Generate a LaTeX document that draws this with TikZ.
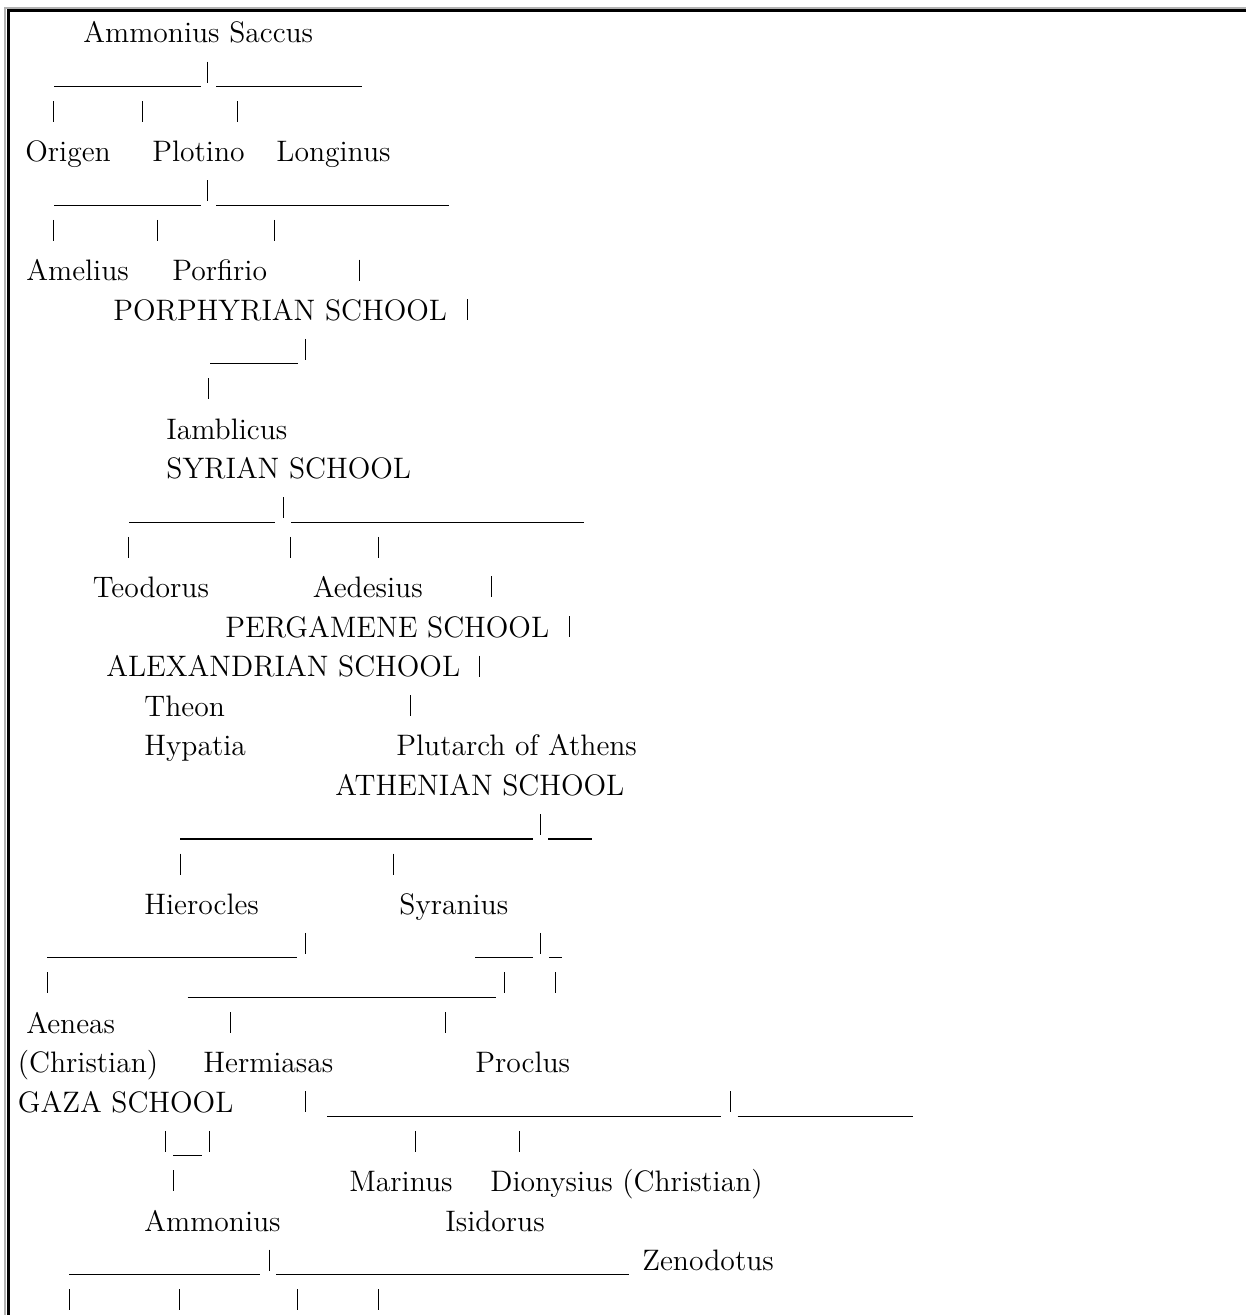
\documentclass[tikz,border=0pt]{standalone}
\usepackage{tikz}
\newcommand{\rowy}[1]{(43+39.6*(#1))}

\begin{document}
\begin{tikzpicture}[x=0.5pt, y=-0.5pt,
	every node/.style={font=\fontsize{14.8}{17}\selectfont, inner sep=0pt, anchor=base west},
	rule/.style={line width=0.6pt},
	bar/.style={line width=0.5pt}]
	\useasboundingbox (0,0) rectangle (1246,1315);
	\draw[black!30, line width=1pt] (5,7) -- (5,1315) (4,8.5) -- (1246,8.5);
	\draw[line width=1.5pt] (8.7,9.5) -- (8.7,1315) (7.5,10.75) -- (1246,10.75);
	\foreach \r/\x/\name/\txt in {0/83/saccus/Ammonius Saccus,
		3/25/origen/Origen, 3/152/plotino/Plotino, 3/276/longinus/Longinus,
		6/26/amelius/Amelius, 6/172/porfirio/Porfirio,
		7/113/porphyrian/PORPHYRIAN SCHOOL,
		10/166/iamblicus/Iamblicus, 11/166/syrian/SYRIAN SCHOOL,
		14/92.5/teodorus/Teodorus, 14/312.5/aedesius/Aedesius,
		15/225/pergamene/PERGAMENE SCHOOL, 16/106/alexandrian/ALEXANDRIAN SCHOOL,
		17/144/theon/Theon, 18/144/hypatia/Hypatia, 18/396/plutarch/Plutarch of Athens,
		19/335/athenian/ATHENIAN SCHOOL,
		22/144/hierocles/Hierocles, 22/399/syranius/Syranius,
		25/26/aeneas/Aeneas,
		26/17.5/christian/(Christian), 26/203/hermiasas/Hermiasas, 26/475/proclus/Proclus,
		27/17.5/gaza/GAZA SCHOOL,
		29/349/marinus/Marinus, 29/490/dionysius/Dionysius (Christian),
		30/144/ammonius/Ammonius, 30/445/isidorus/Isidorus,
		31/642/zenodotus/Zenodotus} {
		\node (\name) at (\x,{\rowy{\r}}) {\txt};
	}
	\foreach \r/\x in {1/207, 2/53, 2/142, 2/237, 4/207, 5/53, 5/157, 5/274, 6/359,
		7/467.5, 8/305, 9/208, 12/283, 13/128, 13/290, 13/378, 14/491, 15/569, 16/479,
		17/410, 20/540, 21/180, 21/393, 23/305, 23/540, 24/47, 24/504, 24/555,
		25/230, 25/445, 27/305, 27/730, 28/165, 28/209, 28/415, 28/519, 29/173,
		31/269, 32/69, 32/179, 32/297, 32/378} {
		\draw[bar] (\x,{\rowy{\r}-21}) -- (\x,{\rowy{\r}});
	}
	\foreach \r/\a/\b in {1/54/201, 1/216/362, 4/54/201, 4/216/449, 8/210/298,
		12/129/275, 12/291/584, 20/180/533, 20/548/592, 23/47/297, 23/475/533,
		23/549/562, 24/187.5/496, 27/327/721, 27/737.5/913, 28/173/202,
		31/69/260, 31/276/629} {
		\draw[rule] (\a,{\rowy{\r}+4}) -- (\b,{\rowy{\r}+4});
	}
\end{tikzpicture}
\end{document}
